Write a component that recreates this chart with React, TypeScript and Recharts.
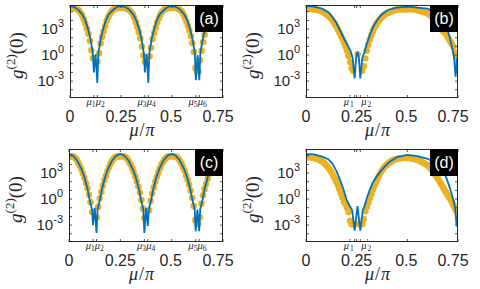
import React from 'react';
import { ComposedChart, Line, XAxis, YAxis } from 'recharts';

// mu/pi positions of the orange markers (same sampling in every panel)
const dotMu = [
  0, 0.0075, 0.015, 0.0225, 0.03, 0.0375, 0.045, 0.0525, 0.06, 0.0675,
  0.075, 0.0825, 0.09, 0.0975, 0.105, 0.1125, 0.12, 0.1275, 0.135, 0.1425,
  0.15, 0.1575, 0.165, 0.1725, 0.18, 0.1875, 0.195, 0.2025, 0.21, 0.2175,
  0.225, 0.2325, 0.24, 0.2475, 0.255, 0.2625, 0.27, 0.2775, 0.285, 0.2925,
  0.3, 0.3075, 0.315, 0.3225, 0.33, 0.3375, 0.345, 0.3525, 0.36, 0.3675,
  0.375, 0.3825, 0.39, 0.3975, 0.405, 0.4125, 0.42, 0.4275, 0.435, 0.4425,
  0.45, 0.4575, 0.465, 0.4725, 0.48, 0.4875, 0.495, 0.5025, 0.51, 0.5175,
  0.525, 0.5325, 0.54, 0.5475, 0.555, 0.5625, 0.57, 0.5775, 0.585, 0.5925,
  0.6, 0.6075, 0.615, 0.6225, 0.63, 0.6375, 0.645, 0.6525, 0.66, 0.6675,
  0.675, 0.6825, 0.69, 0.6975, 0.705, 0.7125, 0.72, 0.7275, 0.735, 0.7425, 0.75,
];

// orange markers, log10 g2(0); null = no marker visible
const dotsA = [
  5.45, 5.45, 5.45, 5.4, 5.35, 5.25, 5.1, 4.85, 4.55, 4.15,
  3.65, 3.05, 2.45, 1.65, 0.55, -0.35, null, null, -0.75, 0.2,
  1.35, 2.1, 2.75, 3.35, 3.95, 4.4, 4.75, 5.0, 5.2, 5.3,
  5.4, 5.45, 5.45, 5.45, 5.45, 5.45, 5.45, 5.35, 5.3, 5.15,
  4.95, 4.7, 4.3, 3.8, 3.25, 2.65, 1.95, 1.0, -0.05, -0.8,
  null, null, -0.15, 0.85, 1.85, 2.55, 3.15, 3.75, 4.25, 4.65,
  4.95, 5.15, 5.3, 5.35, 5.4, 5.45, 5.45, 5.45, 5.45, 5.45,
  5.4, 5.3, 5.2, 5.05, 4.75, 4.35, 3.9, 3.4, 2.85, 2.2,
  1.4, 0.35, -1.5, -1.9, -1.9, -0.6, 0.5, 1.5, 2.35, 3.0,
  3.6, 4.1, 4.5, 4.8, 5.05, 5.25, 5.35, 5.4, 5.45, 5.45, 5.45,
];
const dotsB = [
  5.35, 5.35, 5.35, 5.35, 5.3, 5.3, 5.3, 5.25, 5.2, 5.15,
  5.1, 5.0, 4.9, 4.75, 4.65, 4.5, 4.3, 4.1, 3.85, 3.6,
  3.3, 2.95, 2.6, 2.2, 1.85, 1.45, 1.0, 0.5, -0.1, -0.8,
  -1.5, -1.8, null, null, 0.1, null, null, -1.8, -1.3, -0.4,
  0.5, 1.2, 1.8, 2.3, 2.8, 3.15, 3.45, 3.75, 4.0, 4.2,
  4.4, 4.55, 4.7, 4.8, 4.9, 5.0, 5.05, 5.1, 5.15, 5.2,
  5.25, 5.3, 5.3, 5.3, 5.3, 5.3, 5.3, 5.3, 5.3, 5.3,
  5.3, 5.25, 5.25, 5.2, 5.15, 5.1, 5.05, 5.0, 4.95, 4.9,
  4.8, 4.7, 4.55, 4.4, 4.2, 4.0, 3.8, 3.55, 3.3, 3.05,
  2.8, 2.6, 2.45, 2.15, 1.85, 1.55, 1.25, 0.95, 0.25, -0.2, -0.55,
];
const dotsC = [
  4.95, 4.95, 4.95, 4.9, 4.75, 4.55, 4.2, 3.85, 3.45, 2.95,
  2.45, 1.85, 1.25, 0.5, -0.35, -1.5, null, null, -2.1, -0.9,
  0.1, 0.85, 1.55, 2.2, 2.7, 3.25, 3.7, 4.1, 4.4, 4.65,
  4.85, 4.9, 4.95, 4.95, 4.95, 4.95, 4.9, 4.8, 4.6, 4.3,
  4.0, 3.6, 3.15, 2.6, 2.05, 1.45, 0.75, -0.1, -1.1, -2.2,
  null, null, -1.3, -0.2, 0.65, 1.35, 2.0, 2.55, 3.05, 3.55,
  3.95, 4.25, 4.55, 4.75, 4.9, 4.95, 4.95, 4.95, 4.95, 4.9,
  4.85, 4.65, 4.4, 4.1, 3.7, 3.3, 2.75, 2.25, 1.65, 0.95,
  0.15, -0.8, -2.4, -2.85, -2.85, -2.1, -0.55, 0.45, 1.15, 1.75,
  2.35, 2.9, 3.4, 3.8, 4.15, 4.5, 4.7, 4.85, 4.9, 4.95, 4.95,
];
const dotsD = [
  4.85, 4.85, 4.85, 4.8, 4.8, 4.75, 4.7, 4.65, 4.6, 4.5,
  4.4, 4.3, 4.15, 4.0, 3.8, 3.55, 3.3, 3.0, 2.7, 2.35,
  2.0, 1.6, 1.15, 0.65, 0.2, -0.3, -0.6, -1.0, -1.5, -2.5,
  -2.9, -2.9, -2.9, null, null, -2.9, -2.9, -2.9, -2.3, -1.4,
  -0.9, -0.4, 0.1, 0.6, 1.1, 1.55, 1.95, 2.35, 2.7, 3.0,
  3.3, 3.55, 3.75, 3.95, 4.1, 4.25, 4.35, 4.45, 4.55, 4.6,
  4.65, 4.7, 4.7, 4.75, 4.75, 4.75, 4.75, 4.75, 4.75, 4.7,
  4.7, 4.65, 4.6, 4.55, 4.5, 4.4, 4.3, 4.2, 4.1, 4.0,
  3.9, 3.75, 3.55, 3.35, 3.1, 2.85, 2.6, 2.3, 2.0, 1.7,
  1.4, 1.1, 0.8, 0.5, 0.25, 0.0, -0.35, -0.7, -1.05, -1.4, -1.9,
];

// blue curves, log10 g2(0)
const curveMuAC = [
  0, 0.02, 0.04, 0.06, 0.075, 0.09, 0.1, 0.108, 0.112, 0.117, 0.1255, 0.134, 0.139, 0.143, 0.151, 0.161, 0.176, 0.19, 0.21, 0.23, 0.25,
  0.27, 0.29, 0.31, 0.325, 0.34, 0.35, 0.358, 0.362, 0.367, 0.3755, 0.384, 0.389, 0.393, 0.401, 0.411, 0.426, 0.44, 0.46, 0.48, 0.5,
  0.52, 0.54, 0.56, 0.575, 0.59, 0.6, 0.608, 0.612, 0.617, 0.6255, 0.634, 0.639, 0.643, 0.651, 0.661, 0.676, 0.69, 0.71, 0.73, 0.75,
];
const curveA = [
  5.65, 5.55, 5.25, 4.7, 4.0, 2.9, 1.9, 0.8, 0.2, -2.0, 0.1, -3.2, 0.2, 0.8, 1.9, 2.9, 4.0, 4.7, 5.2, 5.55, 5.65,
  5.55, 5.25, 4.7, 4.0, 2.9, 1.9, 0.8, 0.2, -2.0, 0.1, -3.2, 0.2, 0.8, 1.9, 2.9, 4.0, 4.7, 5.2, 5.55, 5.65,
  5.55, 5.25, 4.7, 4.0, 2.9, 1.9, 0.8, 0.2, -2.9, 0.0, -2.9, 0.2, 0.8, 1.9, 2.9, 4.0, 4.7, 5.2, 5.55, 5.65,
];
const curveC = [
  5.2, 5.0, 4.45, 3.5, 2.55, 1.2, 0.0, -0.8, -1.2, -3.0, -1.0, -3.9, -1.2, -0.8, 0.0, 1.2, 2.55, 3.5, 4.45, 5.0, 5.2,
  5.0, 4.45, 3.5, 2.55, 1.2, 0.0, -0.8, -1.2, -3.9, -1.0, -3.1, -1.2, -0.8, 0.0, 1.2, 2.55, 3.5, 4.45, 5.0, 5.2,
  5.0, 4.45, 3.5, 2.55, 1.2, 0.0, -0.8, -1.2, -3.7, -1.2, -3.7, -1.2, -0.8, 0.0, 1.2, 2.55, 3.5, 4.45, 5.0, 5.2,
];
const curveMuB = [
  0, 0.04, 0.08, 0.11, 0.13, 0.15, 0.17, 0.19, 0.205, 0.22,
  0.23, 0.24, 0.247, 0.254, 0.261, 0.268, 0.278, 0.288, 0.3, 0.315,
  0.33, 0.35, 0.37, 0.4, 0.44, 0.5, 0.56, 0.6, 0.64, 0.67,
  0.69, 0.705, 0.72, 0.73, 0.738, 0.745, 0.75,
];
const curveB = [
  5.65, 5.6, 5.35, 4.95, 4.4, 3.7, 2.75, 1.8, 1.15, 0.45,
  -0.3, -2.7, -0.3, 0.4, -0.3, -2.7, -0.3, 0.3, 1.3, 2.3,
  3.2, 4.0, 4.6, 5.15, 5.45, 5.6, 5.45, 5.35, 4.9, 4.3,
  3.5, 2.4, 1.0, -0.1, -2.5, -0.6, 0.0,
];
const curveMuD = [
  0, 0.04, 0.08, 0.11, 0.13, 0.15, 0.17, 0.185, 0.2, 0.215,
  0.228, 0.24, 0.254, 0.268, 0.28, 0.29, 0.3, 0.315, 0.33, 0.35,
  0.37, 0.39, 0.415, 0.45, 0.5, 0.55, 0.6, 0.63, 0.655, 0.678,
  0.695, 0.71, 0.727, 0.736, 0.743, 0.75,
];
const curveD = [
  5.2, 5.15, 4.9, 4.6, 4.1, 3.25, 2.1, 1.1, -0.05, -0.75,
  -1.3, -3.65, -0.8, -3.65, -1.3, -0.75, 0.1, 1.1, 1.95, 2.65,
  3.25, 3.8, 4.35, 4.85, 5.1, 4.95, 4.65, 4.3, 3.8, 3.18,
  2.3, 1.27, -0.08, -1.0, -3.15, -1.8,
];

// x ticks
const ticksAC = [0, 0.117, 0.134, 0.25, 0.367, 0.384, 0.5, 0.617, 0.634, 0.75];
const tickNamesAC = ['0', 'μ1', 'μ2', '0.25', 'μ3', 'μ4', '0.5', 'μ5', 'μ6', '0.75'];
const ticksBD = [0, 0.24, 0.25, 0.268, 0.5, 0.75];
const tickNamesBD = ['0', "μ'1", '0.25', "μ'2", '0.5', '0.75'];
const decadeTicks = [1e-4, 1e-3, 1e-2, 1e-1, 1, 10, 100, 1e3, 1e4, 1e5];

const Y_MIN = Math.pow(10, -4.95);
const Y_MAX = Math.pow(10, 5.78);
const CH = 144;
const PLOT_T = 5;
const X_AXIS_H = 46;
const PLOT_H = CH - PLOT_T - X_AXIS_H;

const ORANGE = '#EDB120';
const BLUE = '#0072BD';
const INK = '#262626';
const SANS = '"Liberation Sans", Arial, sans-serif';
const SERIF = '"Liberation Serif", "Times New Roman", serif';

const toPoints = (mu: number[], lg: (number | null)[]) =>
  mu
    .map((x, i) => ({ x, lg: lg[i] }))
    .filter((p) => p.lg !== null)
    .map((p) => ({ x: p.x, y: Math.pow(10, p.lg as number) }));

type PanelProps = {
  left: number;
  top: number;
  axisW: number;
  marginR: number;
  dots: { x: number; y: number }[];
  curve: { x: number; y: number }[];
  ticks: number[];
  names: string[];
  muPad: number;
  tag: string;
};

function Panel({ left, top, axisW, marginR, dots, curve, ticks, names, muPad, tag }: PanelProps) {
  const plotW = 240 - axisW - marginR;

  const renderXTick = (props: any) => {
    const { x, y, payload } = props;
    const name = names[ticks.indexOf(payload.value)] || '';
    let label: React.ReactNode = null;
    if (name.startsWith('μ')) {
      const prime = name[1] === "'";
      const sub = name[name.length - 1];
      const first = Number(sub) % 2 === 1;
      label = (
        <text
          x={first ? x - muPad : x + muPad}
          y={y + 7}
          textAnchor={first ? 'end' : 'start'}
          fontFamily={SERIF}
          fontSize={10.5}
          fontStyle="italic"
          fill={INK}
        >
          μ
          {prime && (
            <tspan fontStyle="normal" fontSize={9} dy={-4}>
              ′
            </tspan>
          )}
          <tspan fontStyle="normal" fontSize={7.5} dy={prime ? 6 : 2} dx={prime ? -1 : 0}>
            {sub}
          </tspan>
        </text>
      );
    } else {
      const dx = name === '0.75' ? -5 : name === '0.5' ? -1 : 0;
      label = (
        <text x={x + dx} y={y + 23.5} textAnchor="middle" fontFamily={SANS} fontSize={16} fill={INK}>
          {name}
        </text>
      );
    }
    return (
      <g>
        <line x1={x} x2={x} y1={y} y2={y - 3} stroke={INK} strokeWidth={0.8} />
        <line x1={x} x2={x} y1={y - PLOT_H} y2={y - PLOT_H + 3} stroke={INK} strokeWidth={0.8} />
        {label}
      </g>
    );
  };

  const renderYTick = (props: any) => {
    const { x, y, payload } = props;
    const exp = Math.round(Math.log10(payload.value));
    const show = exp === -3 || exp === 0 || exp === 3;
    return (
      <g>
        <line x1={x} x2={x + 3} y1={y} y2={y} stroke={INK} strokeWidth={0.8} />
        <line x1={x + plotW - 3} x2={x + plotW} y1={y} y2={y} stroke={INK} strokeWidth={0.8} />
        {show && (
          <text x={x - 6} y={y + 5} textAnchor="end" fontFamily={SANS} fontSize={15} fill={INK}>
            10
            <tspan dy={-7} fontSize={11}>
              {String(exp)}
            </tspan>
          </text>
        )}
      </g>
    );
  };

  const yLabelX = axisW - 53.5;
  const yLabelY = PLOT_T + 50.5;

  return (
    <div style={{ position: 'absolute', left, top, width: 240, height: CH }}>
      {/* axes, labels and the orange markers */}
      <ComposedChart width={240} height={CH} margin={{ top: PLOT_T, right: marginR, bottom: 0, left: 0 }}>
        <XAxis
          dataKey="x"
          type="number"
          domain={[0, 0.75]}
          allowDataOverflow
          ticks={ticks}
          interval={0}
          tick={renderXTick}
          tickLine={false}
          axisLine={false}
          tickSize={0}
          tickMargin={0}
          height={X_AXIS_H}
          label={{
            content: () => (
              <text
                x={axisW + plotW / 2 - 4}
                y={PLOT_T + PLOT_H + 38}
                textAnchor="middle"
                fontFamily={SERIF}
                fontSize={18}
                fill={INK}
                letterSpacing={1}
              >
                <tspan fontStyle="italic">μ</tspan>/<tspan fontStyle="italic">π</tspan>
              </text>
            ),
          }}
        />
        <YAxis
          type="number"
          scale="log"
          domain={[Y_MIN, Y_MAX]}
          allowDataOverflow
          ticks={decadeTicks}
          interval={0}
          tick={renderYTick}
          tickLine={false}
          axisLine={false}
          tickSize={0}
          tickMargin={0}
          width={axisW}
          label={{
            content: () => (
              <text
                x={yLabelX}
                y={yLabelY}
                transform={`rotate(-90, ${yLabelX}, ${yLabelY})`}
                textAnchor="middle"
                fontFamily={SERIF}
                fontSize={19}
                fill={INK}
              >
                <tspan dy={6} fontStyle="italic">g</tspan>
                <tspan dy={-8} fontSize={13}>(2)</tspan>
                <tspan dy={8}>(0)</tspan>
              </text>
            ),
          }}
        />
        <Line
          data={dots}
          dataKey="y"
          stroke="none"
          isAnimationActive={false}
          activeDot={false}
          dot={(p: any) => <circle key={`d${p.index}`} cx={p.cx} cy={p.cy} r={3.3} fill={ORANGE} stroke="none" />}
        />
      </ComposedChart>
      {/* blue curve in an overlaid chart with the same plot area, so it sits above the markers */}
      <div style={{ position: 'absolute', left: 0, top: 0 }}>
        <ComposedChart
          width={240}
          height={CH}
          margin={{ top: PLOT_T, right: marginR, bottom: X_AXIS_H, left: axisW }}
        >
          <XAxis dataKey="x" type="number" domain={[0, 0.75]} allowDataOverflow hide />
          <YAxis type="number" scale="log" domain={[Y_MIN, Y_MAX]} allowDataOverflow hide />
          <Line
            data={curve}
            dataKey="y"
            type="linear"
            stroke={BLUE}
            strokeWidth={1.8}
            dot={false}
            activeDot={false}
            isAnimationActive={false}
          />
        </ComposedChart>
      </div>
      <div
        style={{
          position: 'absolute',
          left: axisW,
          top: PLOT_T,
          width: plotW,
          height: PLOT_H,
          border: `1px solid ${INK}`,
          boxSizing: 'border-box',
          pointerEvents: 'none',
        }}
      />
      <div
        style={{
          position: 'absolute',
          left: axisW + plotW - 28,
          top: PLOT_T,
          width: 28,
          height: 27,
          background: '#000',
          color: '#fff',
          fontFamily: SANS,
          fontSize: 16,
          display: 'flex',
          alignItems: 'center',
          justifyContent: 'center',
        }}
      >
        {tag}
      </div>
    </div>
  );
}

export default function App() {
  return (
    <div style={{ position: 'absolute', left: 0, top: 0, width: 480, height: 289, background: '#fff', overflow: 'hidden' }}>
      <Panel left={0} top={0} axisW={70} marginR={17} dots={toPoints(dotMu, dotsA)} curve={toPoints(curveMuAC, curveA)} ticks={ticksAC} names={tickNamesAC} muPad={-1.7} tag="(a)" />
      <Panel left={240} top={0} axisW={66} marginR={22} dots={toPoints(dotMu, dotsB)} curve={toPoints(curveMuB, curveB)} ticks={ticksBD} names={tickNamesBD} muPad={1} tag="(b)" />
      <Panel left={0} top={144} axisW={69} marginR={17} dots={toPoints(dotMu, dotsC)} curve={toPoints(curveMuAC, curveC)} ticks={ticksAC} names={tickNamesAC} muPad={-1.7} tag="(c)" />
      <Panel left={240} top={144} axisW={66} marginR={22} dots={toPoints(dotMu, dotsD)} curve={toPoints(curveMuD, curveD)} ticks={ticksBD} names={tickNamesBD} muPad={1} tag="(d)" />
    </div>
  );
}
